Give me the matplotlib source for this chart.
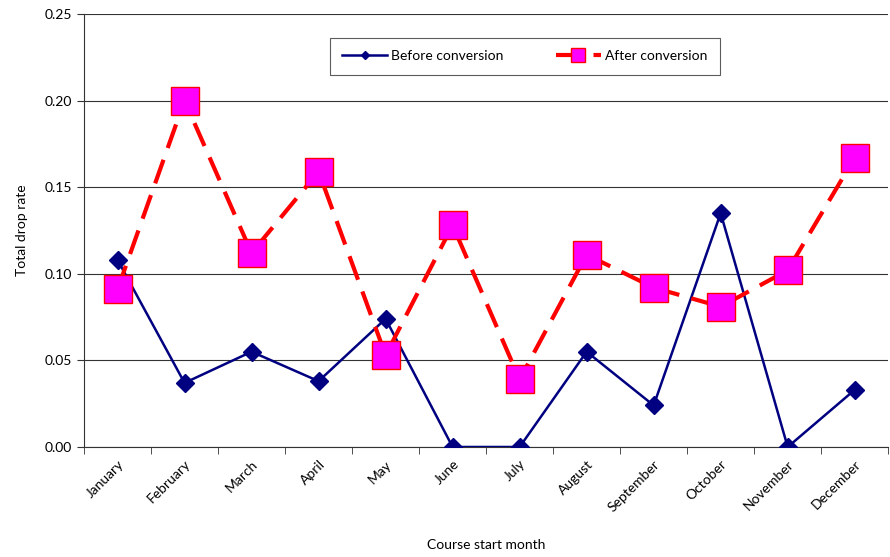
import matplotlib.pyplot as plt
import numpy as np

# Datos
meses = ['January', 'February', 'March', 'April', 'May', 'June', 'July',
         'August', 'September', 'October', 'November', 'December']
antes = [0.108, 0.037, 0.055, 0.038, 0.074, 0.0, 0.0, 0.055, 0.024, 0.135, 0.0, 0.033]
despues = [0.091, 0.200, 0.112, 0.159, 0.053, 0.128, 0.039, 0.111, 0.092, 0.081, 0.102, 0.167]

plt.rcParams['font.family'] = ['Lato', 'DejaVu Sans']

fig = plt.figure(figsize=(8.9, 5.57), dpi=100)
ax = fig.add_axes([0.0944, 0.1975, 0.9036, 0.7775])

x = np.arange(len(meses))

ax.plot(x, antes, color='#000080', linewidth=1.8, marker='D', markersize=9,
        markerfacecolor='#000080', markeredgecolor='#000080', label='Before conversion', zorder=3)
ax.plot(x, despues, color='#FF0000', linewidth=3, linestyle=(0, (6, 3)), marker='s', markersize=20,
        markerfacecolor='#FF00FF', markeredgecolor='#FF0000', markeredgewidth=1,
        label='After conversion', zorder=4)

ax.set_xlim(-0.5, 11.5)
ax.set_ylim(0, 0.25)
ax.set_yticks(np.arange(0, 0.251, 0.05))
ax.set_yticklabels(['%.2f' % v for v in np.arange(0, 0.251, 0.05)], fontsize=10)
ax.yaxis.grid(True, color='#333333', linewidth=0.8)
ax.set_axisbelow(True)

# ticks en los limites de categoria, etiquetas en el centro
ax.set_xticks(x)
ax.set_xticklabels(meses, rotation=45, ha='right', rotation_mode='anchor', fontsize=10)
ax.set_xticks(np.arange(-0.5, 12, 1), minor=True)
ax.tick_params(axis='x', which='major', length=0, pad=8)
ax.tick_params(axis='x', which='minor', length=5, direction='out', color='#333333')
ax.tick_params(axis='y', length=5, direction='out', color='#333333')

ax.spines['top'].set_visible(False)
ax.spines['right'].set_visible(False)
ax.spines['left'].set_color('#333333')
ax.spines['bottom'].set_color('#333333')

ax.set_xlabel('Course start month', fontsize=10, labelpad=18)
ax.set_ylabel('Total drop rate', fontsize=10, labelpad=12)

leg = ax.legend(loc='upper center', bbox_to_anchor=(0.548, 0.945), ncol=2, fontsize=10,
                frameon=True, fancybox=False, edgecolor='#333333', markerscale=0.5,
                handlelength=3.2, handletextpad=0.3, columnspacing=3.8,
                borderpad=0.9, borderaxespad=0)
leg.get_frame().set_linewidth(0.8)

plt.savefig('out.png', dpi=100)
